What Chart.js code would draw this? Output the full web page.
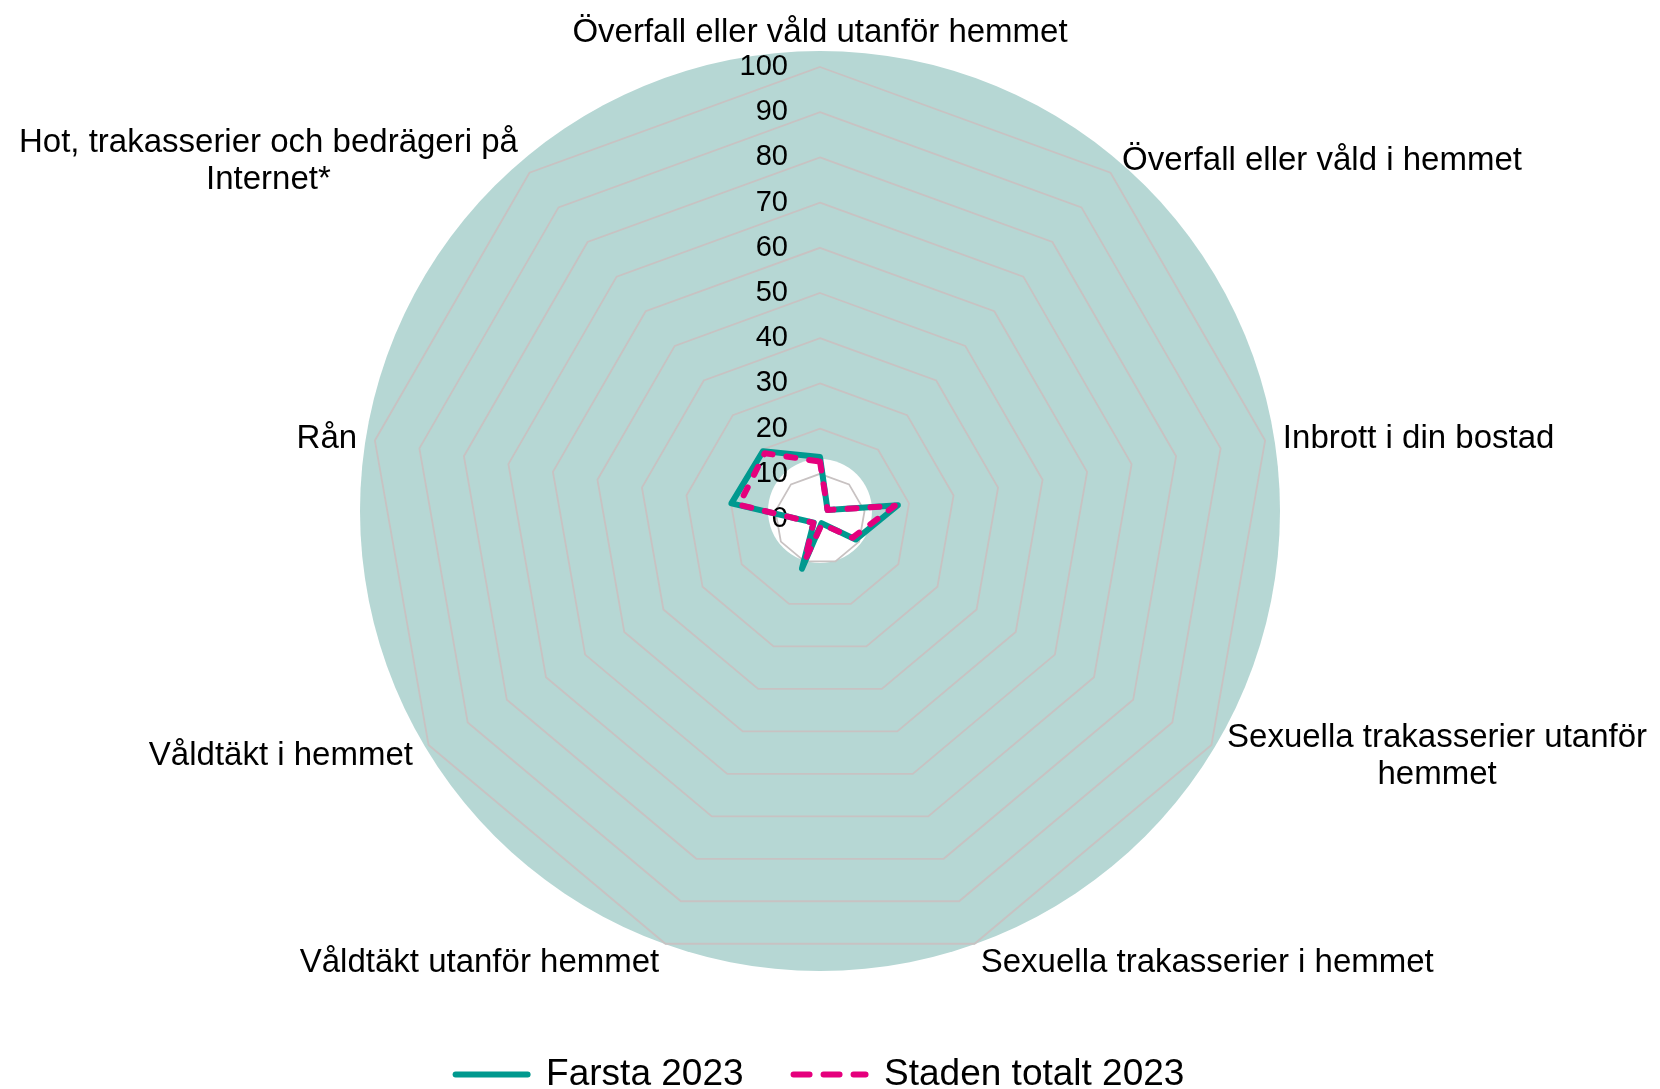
<!DOCTYPE html>
<html>
<head>
<meta charset="utf-8">
<script src="https://cdn.jsdelivr.net/npm/chart.js@4.4.0/dist/chart.umd.min.js"></script>
<style>
  html, body { margin: 0; padding: 0; background: #fff; }
  #wrap { width: 1660px; height: 1089px; }
</style>
</head>
<body>
<div id="wrap"><canvas id="chartRadar"></canvas></div>
<script>
// dati
const categorie = [
    'Överfall eller våld utanför hemmet',
    'Överfall eller våld i hemmet',
    'Inbrott i din bostad',
    ['Sexuella trakasserier utanför', 'hemmet'],
    'Sexuella trakasserier i hemmet',
    'Våldtäkt utanför hemmet',
    'Våldtäkt i hemmet',
    'Rån',
    ['Hot, trakasserier och bedrägeri på', 'Internet*']
];
const farsta2023 = [13.7, 2.6, 17.5, 9.1, 1.0, 11.7, 1.6, 19.9, 19.6];
const staden2023 = [12.7, 2.6, 16.8, 8.3, 1.2, 9.7, 1.7, 18.2, 19.0];
const scalaMin = 0;
const scalaMax = 100;
const scalaPasso = 10;

const teal = '#00998f';
const rosa = '#e5007d';
const fontFamily = '"Liberation Sans", Arial, sans-serif';
Chart.defaults.font.family = fontFamily;
Chart.defaults.color = '#000';

// sfondo: cerchio verde + cerchio bianco al centro
const sfondoPlugin = {
    id: 'sfondo',
    beforeDraw(chart) {
        const r = chart.scales.r;
        const ctx = chart.ctx;
        ctx.save();
        ctx.fillStyle = '#b6d7d4';
        ctx.beginPath();
        ctx.arc(r.xCenter, r.yCenter - 8, r.drawingArea + 8, 0, Math.PI * 2);
        ctx.fill();
        ctx.fillStyle = '#ffffff';
        ctx.beginPath();
        ctx.arc(r.xCenter, r.yCenter - 8, r.getDistanceFromCenterForValue(11.5), 0, Math.PI * 2);
        ctx.fill();
        ctx.restore();
    },
    // etichette dei tick a sinistra dell'asse
    beforeDatasetsDraw(chart) {
        const r = chart.scales.r;
        const ctx = chart.ctx;
        ctx.save();
        ctx.font = '29px ' + fontFamily;
        ctx.fillStyle = '#000';
        ctx.textAlign = 'right';
        ctx.textBaseline = 'middle';
        r.ticks.forEach(t => {
            const y = r.yCenter - r.getDistanceFromCenterForValue(t.value);
            ctx.fillText(String(t.value), r.xCenter - 32, y);
        });
        ctx.restore();
    }
};

// etichette delle categorie
const etichettePlugin = {
    id: 'etichette',
    afterDraw(chart) {
        const scale = chart.scales.r;
        const ctx = chart.ctx;
        const lineH = 37;
        ctx.save();
        ctx.font = '33px ' + fontFamily;
        ctx.fillStyle = '#000';
        ctx.textAlign = 'center';
        ctx.textBaseline = 'middle';
        chart.data.labels.forEach((label, i) => {
            const lines = Array.isArray(label) ? label : [label];
            const pos = scale.getPointPosition(i, scale.drawingArea + 18);
            const angle = scale.getIndexAngle(i);
            const sin = Math.sin(angle), cos = Math.cos(angle);
            const w = Math.max(...lines.map(l => ctx.measureText(l).width));
            const h = lines.length * lineH;
            let left = pos.x - w / 2;
            if (sin > 0.05) left = pos.x;
            else if (sin < -0.05) left = pos.x - w;
            let top = pos.y - h / 2 + 2;
            if (cos > 0.99) top = pos.y - h + 2;
            else if (cos < -0.99) top = pos.y + 2;
            lines.forEach((l, k) => ctx.fillText(l, left + w / 2, top + lineH * (k + 0.5)));
        });
        ctx.restore();
    }
};

const dataRadar = {
    labels: categorie,
    datasets: [{
        label: 'Farsta 2023',
        data: farsta2023,
        borderColor: teal,
        backgroundColor: teal,
        borderWidth: 6,
        borderCapStyle: 'round',
        borderJoinStyle: 'round',
        fill: false,
        order: 1
    }, {
        label: 'Staden totalt 2023',
        data: staden2023,
        borderColor: rosa,
        backgroundColor: rosa,
        borderWidth: 6,
        borderDash: [9, 14],
        borderCapStyle: 'round',
        borderJoinStyle: 'round',
        fill: false,
        order: 0
    }]
};

const configRadar = {
    type: 'radar',
    data: dataRadar,
    options: {
        responsive: true,
        maintainAspectRatio: false,
        animation: false,
        events: [],
        layout: {
            padding: { top: 32, left: 368, right: 388, bottom: -14 }
        },
        elements: {
            line: { tension: 0 },
            point: { radius: 0, hoverRadius: 0 }
        },
        scales: {
            r: {
                min: scalaMin,
                max: scalaMax,
                ticks: { stepSize: scalaPasso, display: false },
                grid: { color: '#c8c2c2', lineWidth: 1.8 },
                angleLines: { display: false },
                pointLabels: { display: false }
            }
        },
        plugins: {
            tooltip: { enabled: false },
            legend: {
                position: 'bottom',
                labels: {
                    color: '#000',
                    font: { size: 37 },
                    padding: 50,
                    usePointStyle: true,
                    pointStyleWidth: 72,
                    generateLabels: (chart) => {
                        const items = Chart.defaults.plugins.legend.labels.generateLabels(chart);
                        items.forEach(item => {
                            const ds = chart.data.datasets[item.datasetIndex];
                            item.pointStyle = 'line';
                            item.lineWidth = ds.borderWidth;
                            item.lineDash = ds.borderDash ? [16, 14] : [];
                            item.lineCap = 'round';
                            item.strokeStyle = ds.borderColor;
                        });
                        return items.sort((a, b) => a.datasetIndex - b.datasetIndex);
                    }
                }
            }
        }
    },
    plugins: [sfondoPlugin, etichettePlugin]
};

const ctx = document.getElementById('chartRadar').getContext('2d');
const chartRadar = new Chart(ctx, configRadar);
</script>
</body>
</html>
